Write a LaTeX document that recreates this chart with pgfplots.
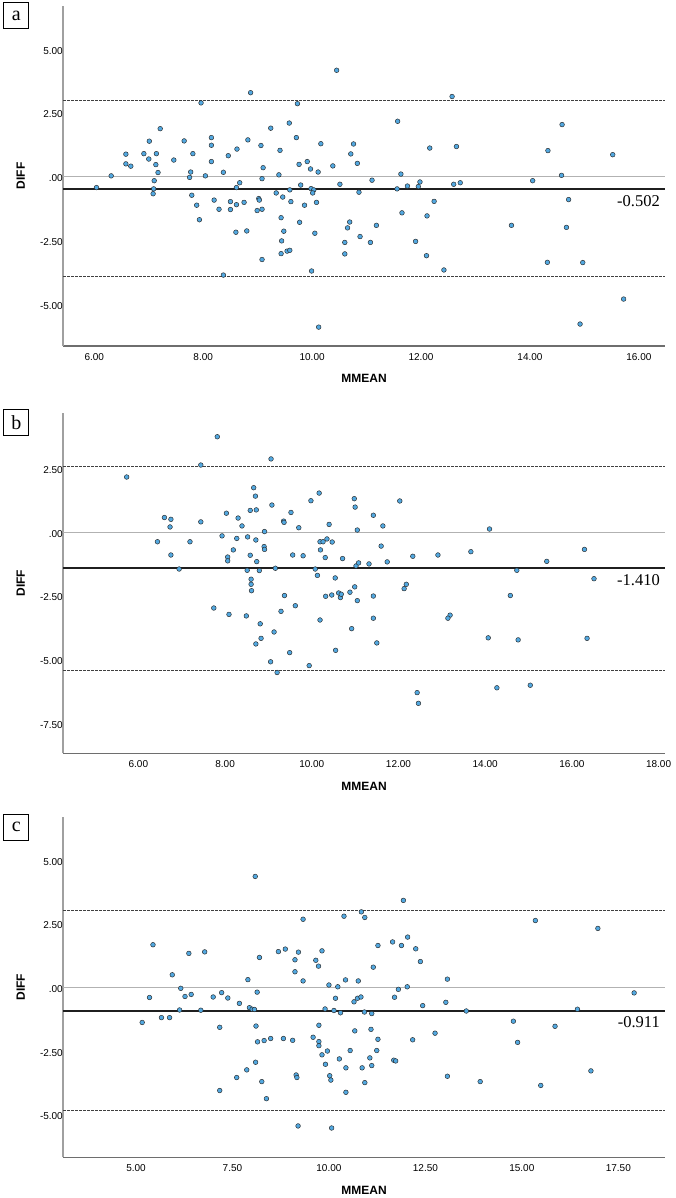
\documentclass[border=0pt]{standalone}
\usepackage{pgfplots}
\pgfplotsset{compat=1.18}
\usepackage{pgfplotstable}
\usepackage{fontspec}
\setmainfont{Liberation Serif}
\newfontfamily\arial{Liberation Sans}

\definecolor{ptfill}{RGB}{82,168,224}
\definecolor{zeroline}{RGB}{178,178,178}
\definecolor{yaxisc}{RGB}{160,160,160}
\definecolor{xaxisc}{RGB}{110,110,110}

% Bland-Altman data: mean of the two methods (MMEAN) and their difference (DIFF)
\pgfplotstableread{
x y
6.04 -0.43
6.31 0.03
6.58 0.88
6.58 0.50
6.67 0.41
6.91 0.90
7.01 1.39
7.00 0.69
7.14 0.90
7.13 0.47
7.17 0.16
7.10 -0.16
7.09 -0.48
7.08 -0.67
7.21 1.88
7.46 0.65
7.65 1.40
7.81 0.90
7.77 0.18
7.75 -0.03
7.79 -0.73
7.88 -1.12
7.93 -1.69
7.96 2.89
8.04 0.03
8.15 1.53
8.15 1.23
8.15 0.59
8.20 -0.92
8.29 -1.28
8.37 0.17
8.37 -3.86
8.46 0.82
8.50 -0.98
8.50 -1.29
8.62 1.08
8.61 -0.43
8.61 -1.10
8.60 -2.18
8.67 -0.24
8.75 -1.01
8.80 -2.13
8.82 1.44
8.87 3.29
9.02 -0.86
9.03 -0.92
8.99 -1.33
9.08 -1.28
9.06 1.22
9.10 0.35
9.08 -0.08
9.08 -3.25
9.24 1.90
9.34 -0.64
9.39 0.07
9.41 1.03
9.46 -0.80
9.43 -1.61
9.48 -2.14
9.44 -2.52
9.43 -3.02
9.54 -2.92
9.59 -2.89
9.58 2.10
9.59 -0.52
9.61 -0.98
9.71 1.53
9.73 2.86
9.76 0.48
9.79 -0.33
9.77 -1.79
9.86 -1.12
9.91 0.59
9.97 0.30
9.98 -0.47
10.03 -0.52
10.01 -0.64
10.08 -1.01
10.05 -2.22
9.99 -3.70
10.12 -5.90
10.11 0.18
10.16 1.29
10.38 0.42
10.45 4.17
10.51 -0.30
10.60 -2.58
10.60 -3.03
10.65 -2.01
10.69 -1.78
10.71 0.89
10.76 1.28
10.83 0.52
10.86 -0.61
10.88 -2.35
11.07 -2.58
11.10 -0.14
11.18 -1.91
11.57 2.17
11.63 0.10
11.56 -0.48
11.65 -1.42
11.75 -0.37
11.98 -0.21
11.95 -0.39
11.90 -2.54
12.16 1.12
12.11 -1.54
12.10 -3.10
12.24 -0.97
12.42 -3.66
12.57 3.14
12.65 1.18
12.60 -0.30
12.72 -0.24
13.66 -1.91
14.05 -0.16
14.33 1.02
14.32 -3.36
14.59 2.04
14.58 0.05
14.71 -0.90
14.67 -1.99
14.97 -3.37
14.92 -5.78
15.52 0.86
15.72 -4.80
}\dataA

\pgfplotstableread{
x y
5.73 2.17
6.44 -0.37
6.60 0.58
6.75 0.51
6.73 0.21
6.75 -0.89
6.94 -1.44
7.19 -0.37
7.44 2.64
7.44 0.41
7.74 -2.97
7.82 3.75
7.93 -0.14
8.03 0.75
8.06 -0.97
8.06 -1.12
8.09 -3.22
8.19 -0.69
8.27 -0.24
8.30 0.56
8.39 0.25
8.49 -3.28
8.51 -1.49
8.52 -0.18
8.58 0.86
8.58 -0.90
8.60 -1.84
8.60 -2.04
8.61 -2.29
8.66 1.75
8.70 1.42
8.72 0.88
8.71 -0.30
8.73 -1.15
8.79 -1.50
8.81 -3.59
8.71 -4.38
8.83 -4.16
8.91 0.03
8.90 -0.56
8.91 -0.67
9.08 1.07
9.06 2.88
9.05 -5.08
9.13 -3.91
9.16 -1.41
9.20 -5.50
9.29 -3.10
9.35 0.44
9.36 0.39
9.37 -2.48
9.52 0.78
9.56 -0.89
9.62 -2.88
9.49 -4.72
9.70 0.18
9.80 -0.92
9.94 -5.23
9.98 1.24
10.17 1.54
10.08 -1.44
10.13 -1.69
10.19 -0.37
10.20 -0.69
10.19 -3.44
10.26 -0.37
10.31 -0.99
10.32 -2.51
10.35 -0.26
10.40 0.31
10.47 -0.38
10.46 -2.46
10.54 -1.79
10.55 -4.63
10.62 -2.38
10.66 -2.56
10.68 -2.43
10.71 -1.03
10.88 -2.35
10.92 -3.78
10.98 1.32
11.00 0.99
10.99 -2.14
11.02 -1.32
11.05 0.09
11.05 -2.68
11.08 -1.20
11.32 -1.24
11.42 0.67
11.42 -2.50
11.42 -3.37
11.50 -4.34
11.64 0.25
11.60 -0.54
11.74 -1.16
12.03 1.23
12.33 -0.94
12.18 -2.04
12.13 -2.21
12.43 -6.29
12.46 -6.71
12.91 -0.89
13.19 -3.25
13.14 -3.37
13.67 -0.76
14.10 0.13
14.07 -4.14
14.27 -6.10
14.73 -1.49
14.58 -2.48
14.76 -4.22
15.04 -6.00
15.42 -1.14
16.29 -0.67
16.51 -1.82
16.35 -4.16
}\dataB

\pgfplotstableread{
x y
5.16 -1.37
5.35 -0.39
5.44 1.68
5.66 -1.18
5.87 -1.18
5.94 0.50
6.16 -0.03
6.13 -0.88
6.27 -0.35
6.37 1.34
6.43 -0.27
6.68 -0.89
6.78 1.40
7.00 -0.37
7.17 -4.04
7.17 -1.56
7.22 -0.20
7.38 -0.41
7.61 -3.53
7.68 -0.62
7.87 -3.23
7.90 0.31
7.94 -0.79
8.01 -0.85
8.07 -0.86
8.09 4.36
8.11 -1.51
8.10 -2.93
8.14 -0.18
8.15 -2.13
8.20 1.18
8.26 -3.69
8.32 -2.08
8.38 -4.36
8.49 -2.00
8.69 1.41
8.82 -2.00
8.87 1.51
9.06 -2.07
9.12 1.09
9.12 0.62
9.15 -3.43
9.17 -3.53
9.20 -5.43
9.21 1.39
9.33 2.68
9.33 0.26
9.59 -1.95
9.66 1.07
9.73 0.84
9.74 -1.48
9.74 -2.12
9.74 -2.28
9.82 1.44
9.82 -2.64
9.90 -0.84
9.91 -3.01
9.96 -2.49
10.00 0.10
10.02 -3.46
10.05 -3.63
10.07 -5.51
10.13 -0.90
10.17 -0.42
10.23 0.03
10.27 -2.80
10.30 -0.99
10.39 2.80
10.43 0.30
10.44 -3.15
10.44 -4.11
10.55 -2.47
10.65 -0.56
10.67 -1.70
10.76 0.26
10.74 -0.42
10.83 -0.37
10.84 2.97
10.93 2.75
10.92 -0.96
10.93 -3.73
10.86 -3.15
11.06 -2.76
11.09 -1.64
11.11 -1.02
11.15 0.80
11.11 -3.06
11.24 -2.47
11.27 1.65
11.27 -2.03
11.65 1.79
11.88 1.65
12.04 1.98
12.25 1.52
12.37 1.02
11.80 -0.07
12.03 0.03
11.70 -0.38
12.43 -0.71
12.17 -2.05
12.75 -1.79
11.68 -2.85
11.73 -2.88
13.07 0.33
13.03 -0.58
13.07 -3.48
13.56 -0.92
13.92 -3.69
14.78 -1.32
14.89 -2.15
15.35 2.63
15.49 -3.84
15.86 -1.52
16.44 -0.85
16.79 -3.27
16.97 2.32
17.91 -0.21
11.93 3.42
}\dataC

\tikzset{
  lblfont/.style={font=\arial\bfseries\fontsize{12}{14}\selectfont},
  valfont/.style={font=\fontsize{16.5}{18}\selectfont, inner sep=0pt, anchor=north east},
  panelbox/.style={draw=black, line width=0.9pt, minimum width=25pt, minimum height=26pt,
    inner sep=0pt, anchor=north west, font=\fontsize{20}{22}\selectfont},
}

\pgfplotsset{
  ba/.style={
    scale only axis, width=602pt, height=340pt,
    axis x line*=bottom, axis y line*=left,
    x axis line style={draw=xaxisc, line width=1.2pt, -},
    y axis line style={draw=yaxisc, line width=1.4pt, -},
    major tick length=0pt,
    tick style={draw=none},
    clip=false,
    enlargelimits=false,
    tick label style={font=\arial\fontsize{10}{12}\selectfont, inner sep=0pt},
    x tick label style={anchor=north, yshift=-7.4pt},
    y tick label style={anchor=east, yshift=-1.5pt},
  },
  pts/.style={only marks, mark=*, mark size=2.35pt,
    mark options={fill=ptfill, draw=black!85, line width=0.45pt}},
  meanln/.style={black!88, line width=2pt},
  zeroln/.style={zeroline, line width=1.2pt},
  loaln/.style={black!75, line width=0.9pt, dash pattern=on 2.5pt off 1.5pt},
}

\begin{document}
\begin{tikzpicture}[x=1pt,y=1pt]
\fill[white] (0,0) rectangle (675,1198);
\useasboundingbox (0,0) rectangle (675,1198);

% ---- panel a ----
\begin{axis}[ba, at={(63pt,852pt)}, anchor=south west,
  xmin=5.425, xmax=16.48, ymin=-6.64, ymax=6.69,
  xtick={6,8,10,12,14,16}, xticklabels={6.00,8.00,10.00,12.00,14.00,16.00},
  ytick={-5,-2.5,0,2.5,5}, yticklabels={-5.00,-2.50,.00,2.50,5.00}]
  \addplot[zeroln] coordinates {(5.425,0) (16.48,0)};
  \addplot[loaln] coordinates {(5.425,2.97) (16.48,2.97)};
  \addplot[loaln] coordinates {(5.425,-3.93) (16.48,-3.93)};
  \addplot[meanln] coordinates {(5.425,-0.502) (16.48,-0.502)};
  \addplot[pts] table {\dataA};
  \node[valfont] at ([xshift=-5pt,yshift=-5.5pt]axis cs:16.48,-0.502) {-0.502};
  \node[lblfont] at ([yshift=-32.6pt]rel axis cs:0.5,0) {MMEAN};
  \node[lblfont, rotate=90] at ([xshift=-42.3pt]rel axis cs:0,0.5) {DIFF};
  \node[panelbox] at ([xshift=-59.7pt,yshift=3.5pt]rel axis cs:0,1) {a};
\end{axis}

% ---- panel b ----
\begin{axis}[ba, at={(63pt,444.7pt)}, anchor=south west,
  xmin=4.261, xmax=18.148, ymin=-8.67, ymax=4.67,
  xtick={6,8,10,12,14,16,18}, xticklabels={6.00,8.00,10.00,12.00,14.00,16.00,18.00},
  ytick={-7.5,-5,-2.5,0,2.5}, yticklabels={-7.50,-5.00,-2.50,.00,2.50}]
  \addplot[zeroln] coordinates {(4.261,0) (18.148,0)};
  \addplot[loaln] coordinates {(4.261,2.60) (18.148,2.60)};
  \addplot[loaln] coordinates {(4.261,-5.41) (18.148,-5.41)};
  \addplot[meanln] coordinates {(4.261,-1.410) (18.148,-1.410)};
  \addplot[pts] table {\dataB};
  \node[valfont] at ([xshift=-5pt,yshift=-6.5pt]axis cs:18.148,-1.410) {-1.410};
  \node[lblfont] at ([yshift=-32.6pt]rel axis cs:0.5,0) {MMEAN};
  \node[lblfont, rotate=90] at ([xshift=-42.3pt]rel axis cs:0,0.5) {DIFF};
  \node[panelbox] at ([xshift=-59.7pt,yshift=4pt]rel axis cs:0,1) {b};
\end{axis}

% ---- panel c ----
\begin{axis}[ba, at={(63pt,40.7pt)}, anchor=south west,
  xmin=3.108, xmax=18.71, ymin=-6.66, ymax=6.68,
  xtick={5,7.5,10,12.5,15,17.5}, xticklabels={5.00,7.50,10.00,12.50,15.00,17.50},
  ytick={-5,-2.5,0,2.5,5}, yticklabels={-5.00,-2.50,.00,2.50,5.00}]
  \addplot[zeroln] coordinates {(3.108,0) (18.71,0)};
  \addplot[loaln] coordinates {(3.108,3.01) (18.71,3.01)};
  \addplot[loaln] coordinates {(3.108,-4.83) (18.71,-4.83)};
  \addplot[meanln] coordinates {(3.108,-0.911) (18.71,-0.911)};
  \addplot[pts] table {\dataC};
  \node[valfont] at ([xshift=-5pt,yshift=-5.5pt]axis cs:18.71,-0.911) {-0.911};
  \node[lblfont] at ([yshift=-32.6pt]rel axis cs:0.5,0) {MMEAN};
  \node[lblfont, rotate=90] at ([xshift=-42.3pt]rel axis cs:0,0.5) {DIFF};
  \node[panelbox] at ([xshift=-59.7pt,yshift=3.7pt]rel axis cs:0,1) {c};
\end{axis}
\end{tikzpicture}
\end{document}
